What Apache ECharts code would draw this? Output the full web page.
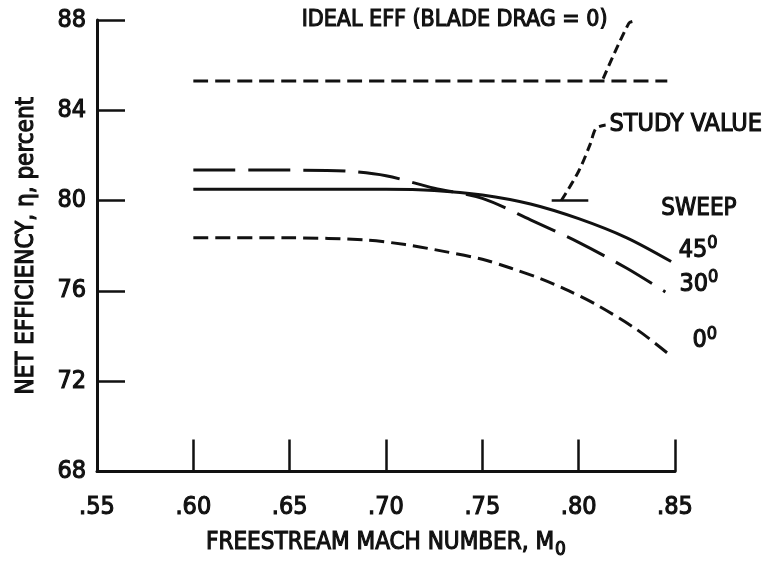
<!DOCTYPE html>
<html>
<head>
<meta charset="utf-8">
<script src="https://cdn.jsdelivr.net/npm/echarts@6/dist/echarts.min.js"></script>
<style>
  html, body { margin: 0; padding: 0; background: #fff; }
  #chart { width: 769px; height: 565px; }
</style>
</head>
<body>
<div id="chart"></div>
<script>
// axis ticks
var xTickLabels = ['.55', '.60', '.65', '.70', '.75', '.80', '.85'];
var yTickLabels = ['68', '72', '76', '80', '84', '88'];

// curves (Mach number, net efficiency %)
var idealMach = [0.60, 0.846];
var idealEta = [85.3, 85.3];

var sweep45Mach = [0.60, 0.65, 0.70, 0.725, 0.75, 0.775, 0.80, 0.825, 0.848];
var sweep45Eta = [80.5, 80.5, 80.5, 80.45, 80.25, 79.85, 79.2, 78.35, 77.3];

var sweep30Mach = [0.60, 0.65, 0.68, 0.70, 0.725, 0.75, 0.775, 0.80, 0.825, 0.845];
var sweep30Eta = [81.35, 81.35, 81.3, 81.1, 80.55, 80.1, 79.15, 78.15, 77.0, 75.95];

var sweep0Mach = [0.60, 0.65, 0.69, 0.71, 0.73, 0.75, 0.765, 0.78, 0.795, 0.81, 0.83, 0.846];
var sweep0Eta = [78.35, 78.35, 78.25, 78.05, 77.75, 77.4, 77.0, 76.55, 76.0, 75.35, 74.3, 73.25];

// study value marker and leader lines
var studyMach = [0.786, 0.805];
var studyEta = [80.0, 80.0];
var studyLeaderMach = [0.791, 0.800, 0.806, 0.809, 0.814];
var studyLeaderEta = [80.0, 81.3, 82.5, 83.2, 83.35];
var idealLeaderMach = [0.8127, 0.826, 0.829];
var idealLeaderEta = [85.4, 87.85, 87.95];

// text notes
var noteText = ['IDEAL EFF (BLADE DRAG = 0)', 'STUDY VALUE', 'SWEEP'];
var noteMach = [0.7356, 0.816, 0.8624];
var noteEta = [88.0, 83.35, 79.65];
var sweepAngles = ['45', '30', '0'];
var sweepMach = [0.862, 0.8624, 0.8655];
var sweepEta = [77.8, 76.3, 73.8];

var FONT = "'DejaVu Sans Condensed', 'Liberation Sans Narrow', sans-serif";
var INK = '#111';
var noteSizes = [23, 25, 24];
var noteAlign = ['center', 'left', 'center'];
// thin outline so the lettering looks as heavy as the scan
var HEAVY = { textBorderColor: INK, textBorderWidth: 1.1 };

function pairs(xs, ys) {
  var out = [];
  for (var i = 0; i < xs.length; i++) out.push([xs[i], ys[i]]);
  return out;
}

function curve(name, xs, ys, dash, width) {
  return {
    name: name,
    type: 'line',
    data: pairs(xs, ys),
    smooth: 0.3,
    symbol: 'none',
    clip: false,
    lineStyle: { color: INK, width: width, type: dash, cap: 'butt' },
    z: 3
  };
}

function txt(size, extra) {
  return Object.assign({ fontFamily: FONT, fontSize: size, color: INK }, HEAVY, extra || {});
}

var noteData = [];
for (var i = 0; i < noteText.length; i++) {
  noteData.push({
    value: [noteMach[i], noteEta[i]],
    name: noteText[i],
    label: { fontSize: noteSizes[i], align: noteAlign[i] }
  });
}
var sweepData = [];
for (var j = 0; j < sweepAngles.length; j++) {
  sweepData.push({ value: [sweepMach[j], sweepEta[j]], name: sweepAngles[j] });
}

var chart = echarts.init(document.getElementById('chart'));
chart.setOption({
  animation: false,
  backgroundColor: '#fff',
  grid: { left: 97, right: 94, top: 20, bottom: 83 },
  xAxis: {
    type: 'value',
    min: 0.55,
    max: 0.85,
    interval: 0.05,
    name: '{t|FREESTREAM MACH NUMBER, M}{s|0}',
    nameLocation: 'middle',
    nameGap: 55,
    nameTextStyle: {
      rich: {
        t: txt(24),
        s: txt(19, { padding: [14, 0, 0, 1] })
      }
    },
    axisLine: { lineStyle: { color: INK, width: 3 } },
    axisTick: { inside: true, length: 32, lineStyle: { color: INK, width: 2.5 } },
    axisLabel: Object.assign(txt(25), {
      margin: 24,
      formatter: function (v, idx) { return xTickLabels[idx]; }
    }),
    splitLine: { show: false }
  },
  yAxis: {
    type: 'value',
    min: 68,
    max: 88,
    interval: 4,
    name: 'NET EFFICIENCY, η, percent',
    nameLocation: 'middle',
    nameGap: 58,
    nameTextStyle: txt(24),
    axisLine: { lineStyle: { color: INK, width: 3 } },
    axisTick: { inside: true, length: 28, lineStyle: { color: INK, width: 2.5 } },
    axisLabel: Object.assign(txt(25), {
      margin: 11,
      formatter: function (v, idx) { return yTickLabels[idx]; }
    }),
    splitLine: { show: false }
  },
  series: [
    curve('ideal', idealMach, idealEta, [15, 7], 3),
    curve('45', sweep45Mach, sweep45Eta, 'solid', 3),
    curve('30', sweep30Mach, sweep30Eta, [42, 13], 3),
    curve('0', sweep0Mach, sweep0Eta, [15, 7], 3),
    curve('study', studyMach, studyEta, 'solid', 2.5),
    curve('studyLeader', studyLeaderMach, studyLeaderEta, [9, 5], 3),
    curve('idealLeader', idealLeaderMach, idealLeaderEta, [9, 5], 3),
    {
      type: 'scatter',
      data: noteData,
      symbolSize: 0,
      clip: false,
      itemStyle: { opacity: 1 },
      label: Object.assign(txt(24), {
        show: true,
        position: [0, 0],
        verticalAlign: 'middle',
        opacity: 1,
        formatter: function (p) { return p.name; }
      })
    },
    {
      type: 'scatter',
      data: sweepData,
      symbolSize: 0,
      clip: false,
      itemStyle: { opacity: 1 },
      label: {
        show: true,
        position: [0, 0],
        align: 'center',
        verticalAlign: 'middle',
        opacity: 1,
        formatter: function (p) { return '{n|' + p.name + '}{d|0}'; },
        rich: {
          n: txt(25),
          d: txt(18, { padding: [0, 0, 13, 0] })
        }
      }
    }
  ]
});
</script>
</body>
</html>
